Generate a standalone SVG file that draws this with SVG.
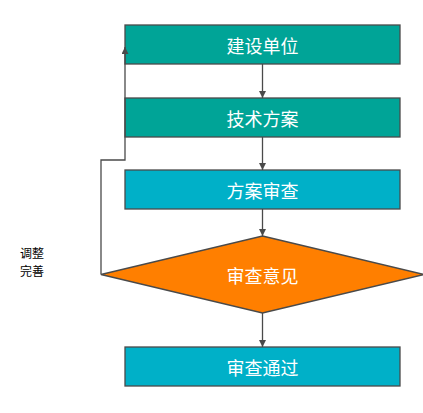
<svg xmlns="http://www.w3.org/2000/svg" width="423" height="413" viewBox="0 0 423 413">
<style>
.box{stroke:#4a4a4a;stroke-width:1.3}
.t{fill:#fff;font-family:"Noto Sans CJK SC","Liberation Sans",sans-serif;font-size:18px;text-anchor:middle;dominant-baseline:central}
.lbl{fill:#000;font-family:"Noto Sans CJK SC","Liberation Sans",sans-serif;font-size:12px}
.c{fill:none;stroke:#4a4a4a;stroke-width:1.3}
</style>
<defs>
<marker id="ah" viewBox="0 0 10 10" refX="10" refY="5" markerWidth="7" markerHeight="7" markerUnits="userSpaceOnUse" orient="auto">
<path d="M0,0 L10,5 L0,10 z" fill="#4a4a4a"/>
</marker>
</defs>
<rect width="423" height="413" fill="#fff"/>
<g id="n1"><rect class="box" x="125" y="25" width="275" height="39" fill="#00A497"/><text class="t" x="262.5" y="44.5">建设单位</text></g>
<g id="n2"><rect class="box" x="125" y="98" width="275" height="39" fill="#00A497"/><text class="t" x="262.5" y="117.5">技术方案</text></g>
<g id="n3"><rect class="box" x="125" y="170" width="275" height="39" fill="#00B0C8"/><text class="t" x="262.5" y="189.5">方案审查</text></g>
<g id="n4"><polygon class="box" points="262.5,236 424,274.5 262.5,313 101,274.5" fill="#FF7F00"/><text class="t" x="262.5" y="274.5">审查意见</text></g>
<g id="n5"><rect class="box" x="125" y="347" width="275" height="39" fill="#00B0C8"/><text class="t" x="262.5" y="366.5">审查通过</text></g>
<g id="connectors">
<line class="c" x1="262.5" y1="64" x2="262.5" y2="98" marker-end="url(#ah)"/>
<line class="c" x1="262.5" y1="137" x2="262.5" y2="170" marker-end="url(#ah)"/>
<line class="c" x1="262.5" y1="209" x2="262.5" y2="236" marker-end="url(#ah)"/>
<line class="c" x1="262.5" y1="313" x2="262.5" y2="347" marker-end="url(#ah)"/>
<polyline class="c" points="101,274.5 101,160 125,160 125,47" marker-end="url(#ah)"/>
</g>
<g id="label"><text class="lbl" x="20" y="258">调整</text><text class="lbl" x="20" y="276">完善</text></g>
</svg>
